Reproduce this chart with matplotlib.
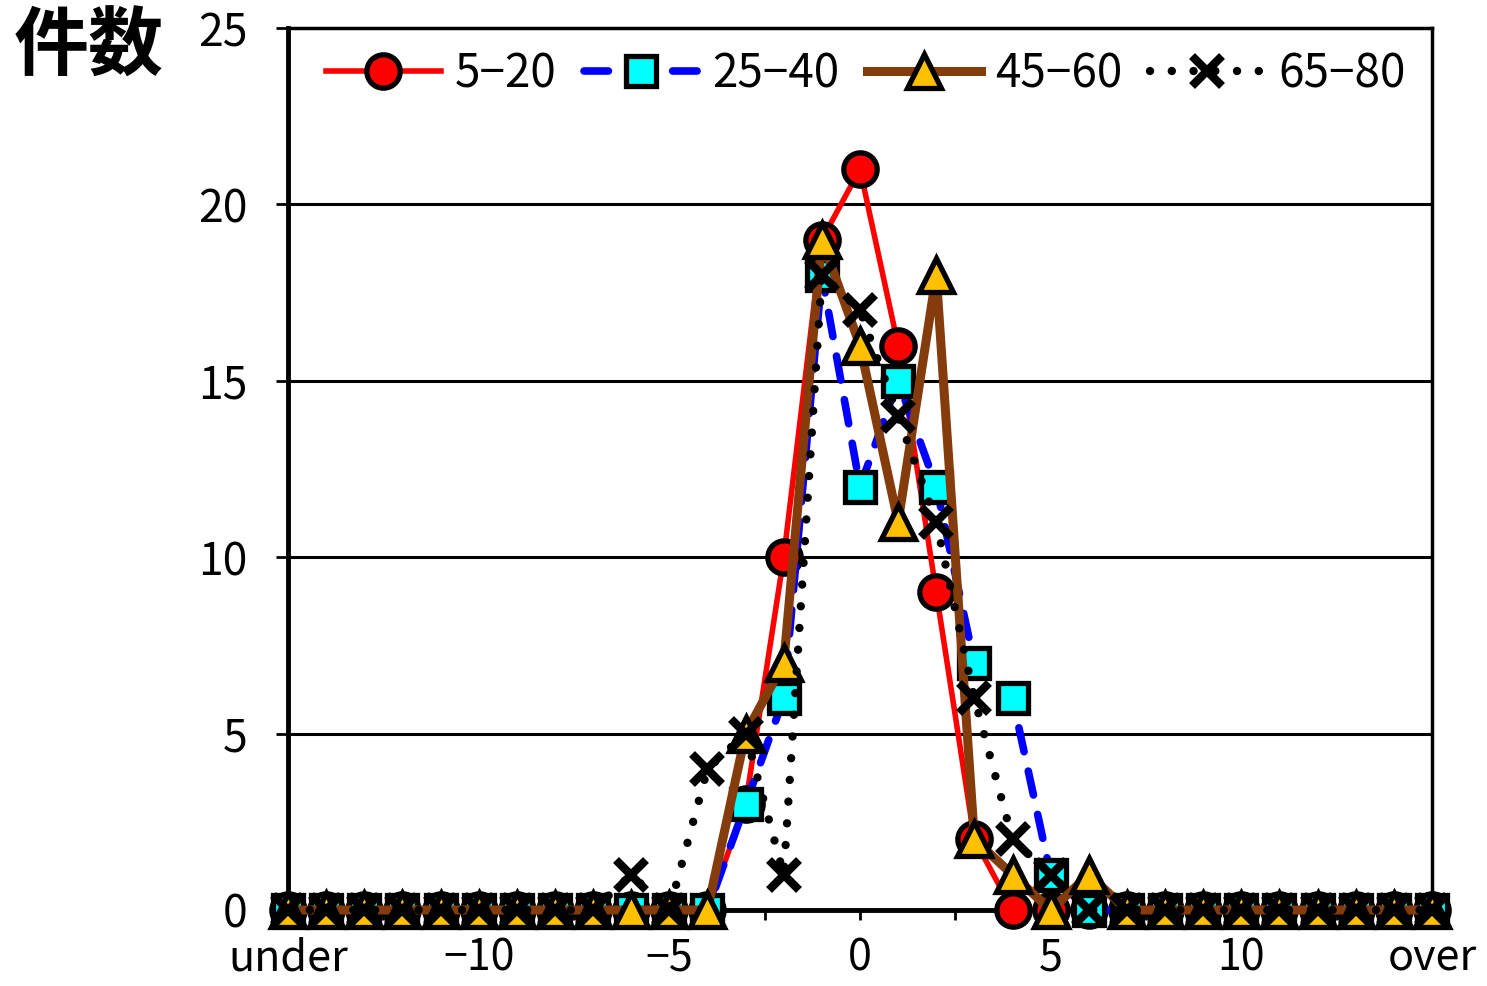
import numpy as np
import matplotlib
matplotlib.use('Agg')
import matplotlib.pyplot as plt
from matplotlib.ticker import FixedLocator

plt.rcParams['font.family'] = ['Noto Sans CJK JP', 'DejaVu Sans']

# # # data # # #
xs = list(range(-15, 16))
tick_pos = [-15, -10, -5, 0, 5, 10, 15]
tick_txt = ['under', '\u221210', '\u22125', '0', '5', '10', 'over']

s5_20 = [0, 0, 0, 0, 0, 0, 0, 0, 0, 0, 0, 0, 3, 10, 19, 21, 16, 9, 2,
         0, 0, 0, 0, 0, 0, 0, 0, 0, 0, 0, 0]
s25_40 = [0, 0, 0, 0, 0, 0, 0, 0, 0, 0, 0, 0, 3, 6, 18, 12, 15, 12, 7,
          6, 1, 0, 0, 0, 0, 0, 0, 0, 0, 0, 0]
s45_60 = [0, 0, 0, 0, 0, 0, 0, 0, 0, 0, 0, 0, 5, 7, 19, 16, 11, 18, 2,
          1, 0, 1, 0, 0, 0, 0, 0, 0, 0, 0, 0]
s65_80 = [0, 0, 0, 0, 0, 0, 0, 0, 0, 1, 0, 4, 5, 1, 18, 17, 14, 11, 6,
          2, 1, 0, 0, 0, 0, 0, 0, 0, 0, 0, 0]
# # #

fig = plt.figure(figsize=(14.87, 9.86), dpi=100)
ax = fig.add_axes([288/1487, 1-910/986, (1432-288)/1487, (910-28)/986])

for y in [5, 10, 15, 20]:
    ax.axhline(y, color='k', lw=2.2, zorder=1)

ax.plot(xs, s5_20, '-', color='#FF0000', lw=4, marker='o', ms=24,
        mfc='#FF0000', mec='k', mew=3.8, label='5\u221220', clip_on=False, zorder=3)
ax.plot(xs, s25_40, color='#0000FF', lw=5.5, ls=(0, (3.2, 2.6)),
        dash_capstyle='round', marker='s', ms=22, mfc='#00FFFF', mec='k',
        mew=3.8, label='25\u221240', clip_on=False, zorder=4)
ax.plot(xs, s45_60, '-', color='#843C0C', lw=6.5, marker='^', ms=25,
        mfc='#FFC000', mec='k', mew=3.8, label='45\u221260', clip_on=False, zorder=5)
ax.plot(xs, s65_80, color='k', lw=6, ls=(0, (0.01, 2.6)),
        dash_capstyle='round', marker='x', ms=22, mec='k', mew=6,
        label='65\u221280', clip_on=False, zorder=6)

ax.set_xlim(-15, 15)
ax.set_ylim(0, 25)
ax.xaxis.set_major_locator(FixedLocator(tick_pos))
ax.set_xticklabels(tick_txt)
ax.xaxis.set_minor_locator(FixedLocator(np.arange(-15, 15.1, 2.5)))
ax.set_yticks([0, 5, 10, 15, 20, 25])
ax.tick_params(axis='x', which='both', direction='out', length=7, width=2,
               labelsize=31, pad=12)
ax.tick_params(axis='y', direction='out', length=9, width=2,
               labelsize=32, pad=20)
for sp in ax.spines.values():
    sp.set_linewidth(2.5)
ax.spines['left'].set_linewidth(3.5)
ax.spines['bottom'].set_linewidth(3.5)

ax.legend(loc='center', bbox_to_anchor=(0.505, 0.948), ncol=4, frameon=False,
          fontsize=33, handlelength=2.5, handletextpad=0.3, columnspacing=0.6,
          borderaxespad=0)

fig.text(14/1487, 1-48/986, '件数', fontsize=54, fontweight='bold',
         family=['Noto Sans CJK JP', 'DejaVu Sans'], va='center', ha='left')

fig.savefig('out.png', dpi=100, facecolor='white')
